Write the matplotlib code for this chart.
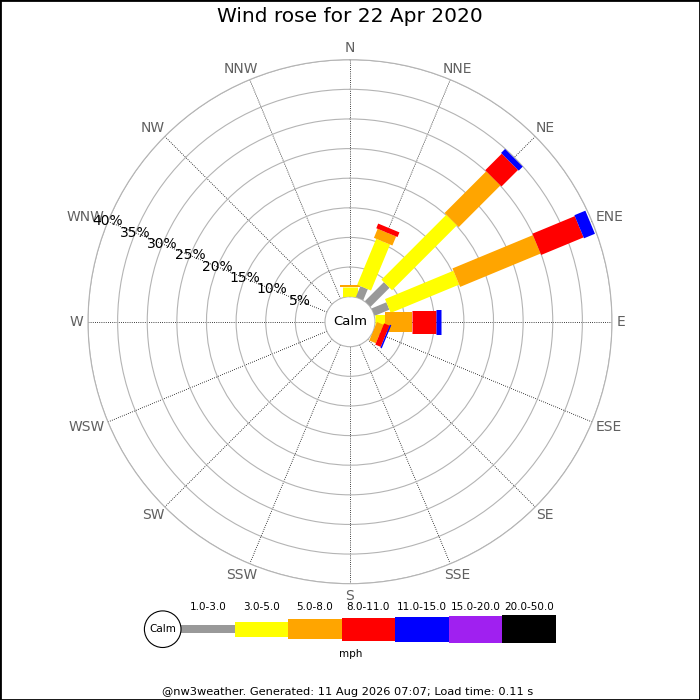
import numpy as np
import matplotlib
matplotlib.use("Agg")
import matplotlib.pyplot as plt
from matplotlib.patches import Ellipse, Rectangle
from matplotlib.transforms import ScaledTranslation

# compass points, clockwise from north
directions = ['N', 'NNE', 'NE', 'ENE', 'E', 'ESE', 'SE', 'SSE',
              'S', 'SSW', 'SW', 'WSW', 'W', 'WNW', 'NW', 'NNW']
speed_bins = ['1.0-3.0', '3.0-5.0', '5.0-8.0', '8.0-11.0',
              '11.0-15.0', '15.0-20.0', '20.0-50.0']
bin_colors = ['#999999', '#ffff00', '#ffa500', '#ff0000',
              '#0000ff', '#a020f0', '#000000']

# percent of the day per direction, one list per speed bin
pct_1_3 = [0, 2.0, 4.55, 2.7, 0, 0, 0, 0, 0, 0, 0, 0, 0, 0, 0, 0]
pct_3_5 = [1.7, 8.4, 15.5, 12.5, 1.7, 0, 0, 0, 0, 0, 0, 0, 0, 0, 0, 0]
pct_5_8 = [0.25, 1.65, 9.95, 14.7, 4.55, 1.2, 0, 0, 0, 0, 0, 0, 0, 0, 0, 0]
pct_8_11 = [0, 0.85, 3.95, 7.75, 4.05, 1.0, 0, 0, 0, 0, 0, 0, 0, 0, 0, 0]
pct_11_15 = [0, 0, 0.95, 2.0, 0.85, 0.25, 0, 0, 0, 0, 0, 0, 0, 0, 0, 0]
pct_15_20 = [0] * 16
pct_20_50 = [0] * 16
speed_pct = [pct_1_3, pct_3_5, pct_5_8, pct_8_11, pct_11_15, pct_15_20, pct_20_50]

ring_ticks = [5, 10, 15, 20, 25, 30, 35, 40]

# bar thickness (pixels) for each speed bin
bar_px = [8, 15, 20, 23, 25, 27, 28]

fig = plt.figure(figsize=(7, 7), dpi=100)

cx, cy, R = 350, 321.7, 262
ax = fig.add_axes([(cx - R) / 700, (700 - cy - R) / 700, 2 * R / 700, 2 * R / 700],
                  projection='polar')
ax.set_theta_zero_location('N')
ax.set_theta_direction(-1)
ax.set_ylim(0, 40)
ax.set_rorigin(-4.22)

theta = np.deg2rad(np.arange(16) * 22.5)
ax.set_xticks(theta)
ax.set_xticklabels([])
ax.set_yticks(ring_ticks)
ax.set_yticklabels([])
ax.yaxis.grid(True, color='#b4b4b4', lw=0.8, ls='-')
ax.xaxis.grid(True, color='black', lw=0.6, ls=(0, (1, 1.6)))
ax.tick_params(axis='x', length=0)
for s in ax.spines.values():
    s.set_color('#b4b4b4')
    s.set_linewidth(0.8)

for i, th in enumerate(theta):
    base = 0.0
    for j, vals in enumerate(speed_pct):
        v = vals[i]
        if v > 0:
            ax.plot([th, th], [base, base + v], color=bin_colors[j],
                    lw=bar_px[j] * 0.72, solid_capstyle='butt', zorder=3)
            base += v

# compass labels, pushed out by half their size so the box sits outside the ring
r_lab = 267 / R * (40 + 4.22) - 4.22
renderer = fig.canvas.get_renderer()
for th, name in zip(theta, directions):
    t = ax.text(th, r_lab, name, ha='center', va='center', fontsize=10,
                color='#606060')
    bb = t.get_window_extent(renderer)
    dx = bb.width / 2 * np.sin(th) / fig.dpi
    dy = bb.height / 2 * np.cos(th) / fig.dpi
    t.set_transform(ax.transData + ScaledTranslation(dx, dy, fig.dpi_scale_trans))

for r in ring_ticks:
    ax.text(np.deg2rad(292.5), r, f'{r}%', ha='center', va='center',
            fontsize=10, color='black', zorder=4)
ax.text(0.5, 0.5, 'Calm', transform=ax.transAxes, ha='center', va='center',
        fontsize=9.5, zorder=5)

fig.text(0.5, 1 - 17 / 700, 'Wind rose for 22 Apr 2020', ha='center', va='center',
         fontsize=14.5)

# speed key
unit = 53.5
x0 = 181
lax = fig.add_axes([140 / 700, (700 - 664.2) / 700, 420 / 700, 70 / 700])
lax.set_xlim((140 - x0) / unit, (560 - x0) / unit)
lax.set_ylim(-35, 35)
lax.axis('off')
lax.bar(np.arange(len(speed_bins)), bar_px, width=1, align='edge',
        bottom=-np.array(bar_px) / 2, color=bin_colors)
for k, lab in enumerate(speed_bins):
    lax.text(k + 0.5, 22.5, lab, ha='center', va='center', fontsize=7.5)
cr = 18.3
lax.add_patch(Ellipse((-cr / unit, 0), 2 * cr / unit, 2 * cr, facecolor='white',
                      edgecolor='black', lw=0.8))
lax.text(-cr / unit, 0, 'Calm', ha='center', va='center', fontsize=7.5)
fig.text(351 / 700, 1 - 654 / 700, 'mph', ha='center', va='center', fontsize=7.5)

fig.text(348 / 700, 1 - 691.7 / 700,
         '@nw3weather. Generated: 11 Aug 2026 07:07; Load time: 0.11 s',
         ha='center', va='center', fontsize=8.2)

fig.patches.append(Rectangle((0, 0), 1, 1, transform=fig.transFigure, fill=False,
                             edgecolor='black', lw=2))

fig.savefig('out.png', dpi=100)
